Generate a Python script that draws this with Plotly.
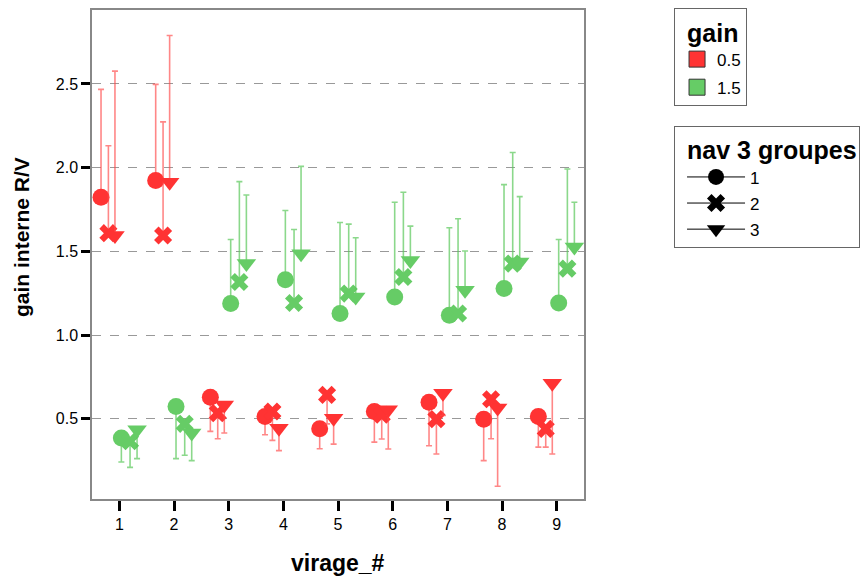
import plotly.graph_objects as go

virages = [1, 2, 3, 4, 5, 6, 7, 8, 9]
groups = ["1", "2", "3"]
gains = ["0.5", "1.5"]

# gain 0.5 (red) means per nav group
red_g1 = [1.823, 1.923, 0.629, 0.514, 0.440, 0.544, 0.599, 0.498, 0.514]
red_g2 = [1.609, 1.595, 0.534, 0.544, 0.643, 0.524, 0.498, 0.617, 0.440]
red_g3 = [1.595, 1.913, 0.583, 0.444, 0.504, 0.554, 0.653, 0.564, 0.712]
# error bar ends (one-sided)
red_g1_end = [2.468, 2.498, 0.425, 0.405, 0.321, 0.361, 0.339, 0.250, 0.331]
red_g2_end = [2.131, 2.274, 0.381, 0.371, 0.470, 0.379, 0.290, 0.381, 0.331]
red_g3_end = [2.577, 2.790, 0.415, 0.310, 0.349, 0.320, 0.520, 0.097, 0.290]

# gain 1.5 (green)
green_g1 = [0.386, 0.573, 1.189, 1.331, 1.129, 1.228, 1.119, 1.278, 1.192]
green_g2 = [0.366, 0.470, 1.317, 1.192, 1.248, 1.347, 1.129, 1.427, 1.397]
green_g3 = [0.435, 0.415, 1.427, 1.486, 1.228, 1.446, 1.268, 1.437, 1.526]
green_g1_end = [0.242, 0.262, 1.571, 1.744, 1.673, 1.794, 1.641, 1.899, 1.571]
green_g2_end = [0.210, 0.282, 1.917, 1.631, 1.663, 1.853, 1.695, 2.091, 1.992]
green_g3_end = [0.262, 0.250, 1.837, 2.008, 1.582, 1.651, 1.502, 1.827, 1.794]

ytickvals = [0.5, 1.0, 1.5, 2.0, 2.5]
yticktext = ["0.5", "1.0", "1.5", "2.0", "2.5"]

RED = "#ff3333"
GREEN = "#66cc66"
RED_BAR = "rgba(255,70,70,0.65)"
GREEN_BAR = "rgba(90,200,90,0.7)"
symbols = ["circle", "x", "triangle-down"]
FONT = "Arial, Liberation Sans, sans-serif"
PAD = "<span style='font-size:18px'>&nbsp;&nbsp;</span>"

fig = go.Figure()

series = [
    (RED, RED_BAR, [red_g1, red_g2, red_g3], [red_g1_end, red_g2_end, red_g3_end], [-0.335, -0.20, -0.08]),
    (GREEN, GREEN_BAR, [green_g1, green_g2, green_g3], [green_g1_end, green_g2_end, green_g3_end], [0.037, 0.196, 0.324]),
]

for color, barcolor, vals, ends, offs in series:
    for gi in range(3):
        v = vals[gi]
        e = ends[gi]
        plus = [max(b - a, 0) for a, b in zip(v, e)]
        minus = [max(a - b, 0) for a, b in zip(v, e)]
        fig.add_trace(go.Scatter(
            x=[xv + offs[gi] for xv in virages],
            y=v,
            mode="markers",
            marker=dict(symbol=symbols[gi], size=17 if gi != 1 else 16, color=color,
                        line=dict(width=0)),
            error_y=dict(type="data", symmetric=False, array=plus, arrayminus=minus,
                         color=barcolor, thickness=1.6, width=3),
            showlegend=False,
            hoverinfo="skip",
        ))

# legend 1: gain
for name, color in zip(gains, [RED, GREEN]):
    fig.add_trace(go.Scatter(
        x=[None], y=[None], mode="markers", name=name,
        marker=dict(symbol="square", size=20, color=color, line=dict(width=1, color="#333333")),
        legend="legend", legendgroup="g" + name,
    ))

# legend 2: nav 3 groupes
for name, sym in zip(groups, symbols):
    fig.add_trace(go.Scatter(
        x=[None], y=[None], mode="lines+markers", name=name,
        marker=dict(symbol=sym, size=18, color="black"),
        line=dict(color="black", width=1),
        legend="legend2", legendgroup="n" + name,
    ))

fig.update_layout(
    width=862, height=580,
    margin=dict(l=92, r=278, t=10, b=81, autoexpand=False),
    paper_bgcolor="white", plot_bgcolor="white",
    font=dict(family=FONT, size=16, color="black"),
    xaxis=dict(
        range=[0.5, 9.5], tickvals=virages, ticktext=[str(v) for v in virages],
        showgrid=False, zeroline=False,
        showline=True, linecolor="#888888", linewidth=1.5, mirror=True,
        ticks="outside", ticklen=10, tickwidth=3, tickcolor="black",
        tickfont=dict(size=16),
    ),
    yaxis=dict(
        range=[0.021, 2.942], tickvals=ytickvals, ticktext=yticktext,
        showgrid=True, gridcolor="#999999", griddash="dash", gridwidth=1,
        zeroline=False,
        showline=True, linecolor="#888888", linewidth=1.5, mirror=True,
        ticks="outside", ticklen=9, tickwidth=3, tickcolor="black",
        tickfont=dict(size=16),
    ),
    annotations=[
        dict(text="<b>gain interne R/V</b>", textangle=-90, font=dict(size=21),
             xref="paper", yref="paper", x=(21 - 92) / 492, y=(499 - 237) / 489,
             xanchor="center", yanchor="middle", showarrow=False),
        dict(text="<b>virage_#</b>", font=dict(size=23),
             xref="paper", yref="paper", x=0.5, y=(499 - 563) / 489,
             xanchor="center", yanchor="middle", showarrow=False),
    ],
    legend=dict(
        title=dict(text=PAD + "<b>gain</b>", font=dict(size=25)),
        x=1.183, y=1.004, xanchor="left", yanchor="top",
        bordercolor="#666666", borderwidth=1, bgcolor="white",
        font=dict(size=17), itemsizing="trace", tracegroupgap=3, indentation=2,
    ),
    legend2=dict(
        title=dict(text=PAD + "<b>nav 3 groupes</b>", font=dict(size=25)),
        x=1.183, y=0.763, xanchor="left", yanchor="top",
        bordercolor="#666666", borderwidth=1, bgcolor="white",
        font=dict(size=17), itemwidth=58, itemsizing="trace", tracegroupgap=1,
        indentation=7,
    ),
)

fig.write_html("out.html")
